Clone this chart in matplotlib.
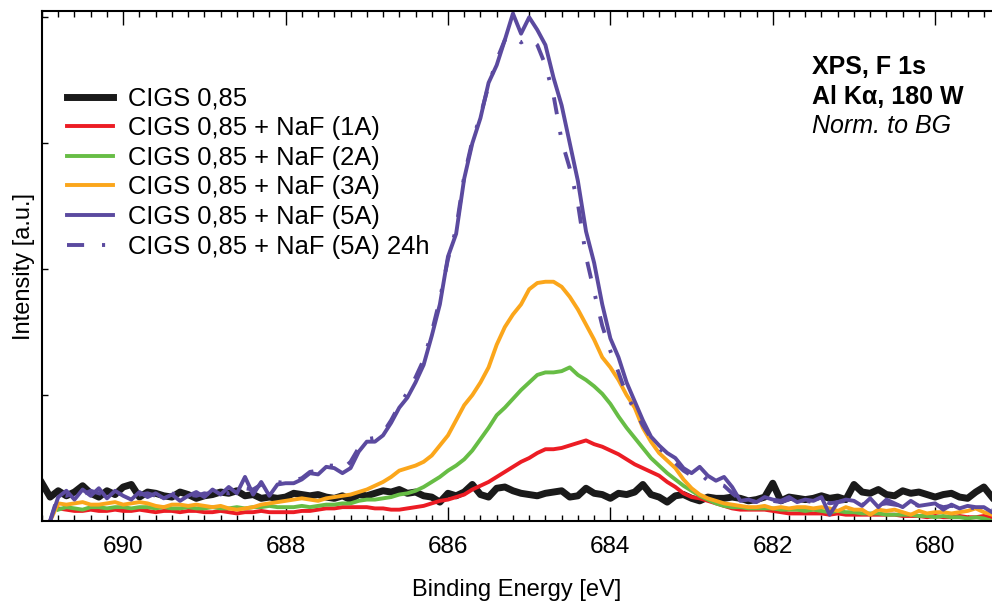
import numpy as np
import matplotlib
matplotlib.use('Agg')
import matplotlib.pyplot as plt
from matplotlib.ticker import MultipleLocator
from matplotlib.lines import Line2D

plt.rcParams['font.family'] = ['Liberation Sans', 'DejaVu Sans']

# binding energy grid (eV), 0.1 eV steps from 691.0 down to 679.3
energy = np.linspace(691.0, 679.3, 118)

nan = np.nan

cigs = [0.30, 0.19, 0.24, 0.20, 0.23, 0.28, 0.22, 0.19, 0.24, 0.21,
        0.27, 0.29, 0.19, 0.23, 0.22, 0.20, 0.19, 0.23, 0.21, 0.18,
        0.20, 0.21, 0.23, 0.22, 0.24, 0.20, 0.21, 0.18, 0.19, 0.18,
        0.19, 0.22, 0.21, 0.20, 0.21, 0.19, 0.18, 0.20, 0.17, 0.21,
        0.20, 0.22, 0.24, 0.23, 0.25, 0.22, 0.23, 0.20, 0.19, 0.15,
        0.22, 0.20, 0.23, 0.29, 0.21, 0.19, 0.26, 0.27, 0.24, 0.22,
        0.21, 0.20, 0.22, 0.23, 0.24, 0.19, 0.20, 0.26, 0.22, 0.21,
        0.18, 0.22, 0.21, 0.23, 0.29, 0.21, 0.19, 0.15, 0.20, 0.21,
        0.18, 0.16, 0.19, 0.18, 0.18, 0.19, 0.18, 0.16, 0.17, 0.19,
        0.30, 0.16, 0.19, 0.18, 0.17, 0.18, 0.20, 0.18, 0.19, 0.17,
        0.29, 0.23, 0.22, 0.25, 0.21, 0.20, 0.24, 0.22, 0.23, 0.21,
        0.19, 0.21, 0.22, 0.19, 0.18, 0.23, 0.27, 0.19]

naf_1a = [nan, nan, 0.10, 0.09, 0.08, 0.08, 0.09, 0.08, 0.08, 0.09,
          0.08, 0.08, 0.09, 0.08, 0.07, 0.08, 0.08, 0.07, 0.08, 0.08,
          0.07, 0.07, 0.08, 0.07, 0.06, 0.07, 0.07, 0.08, 0.07, 0.07,
          0.07, 0.07, 0.08, 0.08, 0.09, 0.10, 0.10, 0.11, 0.11, 0.11,
          0.11, 0.10, 0.10, 0.09, 0.09, 0.10, 0.11, 0.12, 0.14, 0.16,
          0.17, 0.19, 0.21, 0.25, 0.28, 0.31, 0.35, 0.39, 0.43, 0.47,
          0.50, 0.54, 0.57, 0.57, 0.58, 0.60, 0.62, 0.64, 0.61, 0.59,
          0.56, 0.53, 0.49, 0.45, 0.42, 0.39, 0.36, 0.31, 0.27, 0.22,
          0.19, 0.18, 0.16, 0.14, 0.12, 0.10, 0.09, 0.09, 0.09, 0.09,
          0.08, 0.07, 0.06, 0.06, 0.06, 0.06, 0.06, 0.05, 0.06, 0.05,
          0.05, 0.05, 0.05, 0.05, 0.05, 0.05, 0.04, 0.04, 0.04, 0.03,
          0.04, 0.03, 0.03, 0.04, 0.03, 0.03, 0.04, 0.03]

naf_2a = [nan, nan, 0.09, 0.11, 0.10, 0.09, 0.11, 0.11, 0.10, 0.11,
          0.11, 0.10, 0.11, 0.11, 0.10, 0.11, 0.10, 0.10, 0.11, 0.10,
          0.10, 0.11, 0.10, 0.10, 0.11, 0.10, 0.11, 0.11, 0.12, 0.11,
          0.11, 0.11, 0.12, 0.11, 0.12, 0.13, 0.13, 0.14, 0.14, 0.16,
          0.17, 0.17, 0.18, 0.19, 0.21, 0.22, 0.24, 0.27, 0.31, 0.35,
          0.40, 0.44, 0.49, 0.56, 0.65, 0.74, 0.84, 0.90, 0.97, 1.04,
          1.10, 1.16, 1.18, 1.18, 1.19, 1.22, 1.16, 1.12, 1.07, 1.01,
          0.93, 0.83, 0.74, 0.66, 0.58, 0.50, 0.44, 0.38, 0.33, 0.28,
          0.24, 0.20, 0.17, 0.14, 0.12, 0.11, 0.11, 0.10, 0.10, 0.10,
          0.10, 0.09, 0.09, 0.09, 0.08, 0.09, 0.08, 0.07, 0.08, 0.07,
          0.07, 0.06, 0.06, 0.06, 0.05, 0.05, 0.05, 0.05, 0.04, 0.04,
          0.03, 0.04, 0.03, 0.03, 0.02, 0.03, 0.02, 0.00]

naf_3a = [nan, 0.00, 0.14, 0.13, 0.14, 0.15, 0.13, 0.13, 0.14, 0.15,
          0.13, 0.14, 0.15, 0.14, 0.12, 0.11, 0.13, 0.13, 0.12, 0.13,
          0.12, 0.11, 0.12, 0.10, 0.09, 0.10, 0.11, 0.13, 0.14, 0.15,
          0.16, 0.17, 0.18, 0.17, 0.16, 0.18, 0.19, 0.20, 0.21, 0.23,
          0.25, 0.28, 0.31, 0.35, 0.40, 0.42, 0.44, 0.47, 0.52, 0.60,
          0.68, 0.80, 0.92, 1.00, 1.10, 1.22, 1.40, 1.54, 1.64, 1.72,
          1.84, 1.89, 1.90, 1.90, 1.86, 1.78, 1.68, 1.56, 1.44, 1.30,
          1.22, 1.12, 1.00, 0.90, 0.74, 0.63, 0.54, 0.48, 0.42, 0.33,
          0.26, 0.21, 0.18, 0.16, 0.14, 0.13, 0.12, 0.11, 0.11, 0.12,
          0.10, 0.11, 0.10, 0.11, 0.11, 0.10, 0.11, 0.10, 0.08, 0.11,
          0.09, 0.09, 0.05, 0.09, 0.08, 0.09, 0.07, 0.05, 0.08, 0.06,
          0.07, 0.07, 0.06, 0.07, 0.08, 0.10, 0.07, 0.05]

naf_5a = [nan, 0.00, 0.19, 0.24, 0.17, 0.25, 0.20, 0.26, 0.18, 0.24,
          0.20, 0.17, 0.23, 0.19, 0.22, 0.18, 0.21, 0.16, 0.20, 0.23,
          0.19, 0.25, 0.21, 0.27, 0.22, 0.35, 0.21, 0.31, 0.20, 0.29,
          0.30, 0.30, 0.33, 0.38, 0.37, 0.43, 0.42, 0.38, 0.42, 0.55,
          0.63, 0.63, 0.68, 0.78, 0.90, 0.98, 1.10, 1.24, 1.47, 1.72,
          2.10, 2.28, 2.72, 3.00, 3.20, 3.48, 3.62, 3.82, 4.03, 3.87,
          4.00, 3.90, 3.78, 3.52, 3.30, 3.00, 2.70, 2.30, 2.05, 1.72,
          1.45, 1.30, 1.10, 0.95, 0.80, 0.67, 0.60, 0.54, 0.50, 0.42,
          0.38, 0.43, 0.36, 0.32, 0.35, 0.27, 0.16, 0.17, 0.15, 0.19,
          0.17, 0.16, 0.19, 0.15, 0.17, 0.16, 0.19, 0.05, 0.15, 0.17,
          0.16, 0.12, 0.18, 0.11, 0.17, 0.14, 0.11, 0.16, 0.12, 0.13,
          0.14, 0.09, 0.13, 0.10, 0.12, 0.11, 0.11, 0.07]

naf_5a_24h = [nan, 0.00, 0.21, 0.20, 0.23, 0.21, 0.24, 0.22, 0.20, 0.22,
              0.21, 0.19, 0.21, 0.22, 0.20, 0.19, 0.22, 0.20, 0.21, 0.20,
              0.22, 0.21, 0.23, 0.22, 0.24, 0.26, 0.25, 0.29, 0.27, 0.31,
              0.30, 0.32, 0.34, 0.39, 0.40, 0.44, 0.44, 0.41, 0.47, 0.58,
              0.65, 0.66, 0.70, 0.80, 0.92, 1.02, 1.14, 1.28, 1.50, 1.76,
              2.08, 2.32, 2.74, 3.02, 3.22, 3.46, 3.66, 3.82, 3.86, 3.80,
              3.84, 3.78, 3.62, 3.38, 3.02, 2.80, 2.52, 2.10, 1.82, 1.55,
              1.35, 1.18, 1.00, 0.88, 0.76, 0.66, 0.58, 0.52, 0.46, 0.40,
              0.36, 0.38, 0.32, 0.30, 0.28, 0.22, 0.17, 0.16, 0.15, 0.17,
              0.16, 0.15, 0.17, 0.15, 0.16, 0.15, 0.17, 0.14, 0.15, 0.16,
              0.14, 0.13, 0.15, 0.13, 0.14, 0.13, 0.12, 0.14, 0.12, 0.12,
              0.13, 0.11, 0.12, 0.11, 0.11, 0.10, 0.11, 0.09]

labels = ['CIGS 0,85', 'CIGS 0,85 + NaF (1A)', 'CIGS 0,85 + NaF (2A)',
          'CIGS 0,85 + NaF (3A)', 'CIGS 0,85 + NaF (5A)',
          'CIGS 0,85 + NaF (5A) 24h']
colors = ['#1a1a1a', '#ec1c24', '#67bd45', '#fba61b', '#5b4a9f', '#5b4a9f']

dash_dot = (4.4, 4.6, 0.8, 4.6)

fig = plt.figure(figsize=(9.92, 6.01), dpi=100)
ax = fig.add_axes([42 / 992, 1 - 521 / 601, 950 / 992, 510 / 601])

ax.plot(energy, cigs, color=colors[0], lw=5, solid_joinstyle='round')
ax.plot(energy, naf_1a, color=colors[1], lw=2.8)
ax.plot(energy, naf_2a, color=colors[2], lw=2.8)
ax.plot(energy, naf_3a, color=colors[3], lw=2.8)
ax.plot(energy, naf_5a_24h, color=colors[5], lw=2.8, dashes=dash_dot)
ax.plot(energy, naf_5a, color=colors[4], lw=2.8)

handles = [Line2D([], [], color=colors[0], lw=5),
           Line2D([], [], color=colors[1], lw=2.8),
           Line2D([], [], color=colors[2], lw=2.8),
           Line2D([], [], color=colors[3], lw=2.8),
           Line2D([], [], color=colors[4], lw=2.8),
           Line2D([], [], color=colors[5], lw=2.8, dashes=dash_dot)]
ax.legend(handles, labels, loc='upper left', bbox_to_anchor=(0.026, 0.852),
          frameon=False, fontsize=18.4, borderpad=0, borderaxespad=0,
          handlelength=1.8, handletextpad=0.6, labelspacing=0.22)

ax.set_xlim(691.0, 679.3)
ax.set_ylim(0, 4.05)
ax.xaxis.set_major_locator(MultipleLocator(2))
ax.xaxis.set_minor_locator(MultipleLocator(0.2))
ax.set_yticks([1, 2, 3, 4])
ax.set_yticklabels([])
ax.tick_params(axis='x', which='major', direction='in', top=True, bottom=True,
               length=10, width=1, labelsize=17.5, pad=11)
ax.tick_params(axis='x', which='minor', direction='in', top=True, bottom=True,
               length=4.5, width=1)
ax.tick_params(axis='y', which='major', direction='in', left=True, right=False,
               length=4.5, width=1)
for s in ['left', 'top', 'bottom']:
    ax.spines[s].set_linewidth(1.5)
ax.spines['right'].set_visible(False)

ax.set_xlabel('Binding Energy [eV]', fontsize=17, labelpad=15)
ax.set_ylabel('Intensity [a.u.]', fontsize=17, labelpad=1.5)

ax.text(0.8105, 0.890, 'XPS, F 1s', transform=ax.transAxes, fontsize=18,
        fontweight='bold', va='center', ha='left')
ax.text(0.8105, 0.831, 'Al K\u03b1, 180 W', transform=ax.transAxes, fontsize=18,
        fontweight='bold', va='center', ha='left')
ax.text(0.8105, 0.775, 'Norm. to BG', transform=ax.transAxes, fontsize=18,
        fontstyle='italic', va='center', ha='left')

fig.savefig('out.png', dpi=100)
